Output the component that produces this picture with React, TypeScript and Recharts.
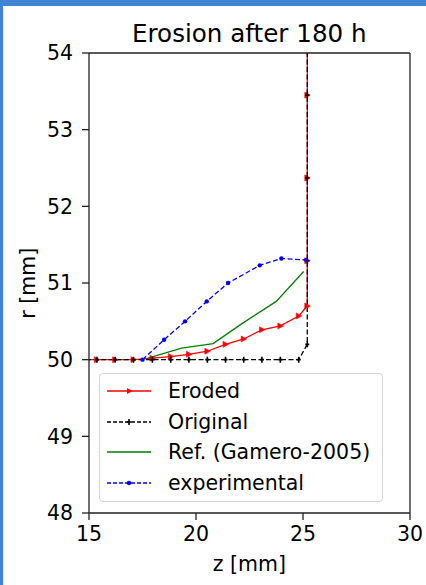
import React from "react";
import { LineChart, Line, XAxis, YAxis, ReferenceLine } from "recharts";

const FONT = "'DejaVu Sans', sans-serif";
const FRAME = "#222";

// Eroded profile (red, right triangles)
const erodedZ = [14.51, 15.37, 16.22, 17.08, 17.96, 18.82, 19.67, 20.53, 21.38, 22.23, 23.08, 23.94, 24.8, 25.2, 25.2, 25.2, 25.2, 25.2];
const erodedR = [50.0, 50.0, 50.0, 50.0, 50.02, 50.04, 50.07, 50.11, 50.2, 50.27, 50.39, 50.44, 50.57, 50.7, 51.29, 52.37, 53.45, 54.53];

// Original profile (black dashed, plus markers)
const originalZ = [14.51, 15.37, 16.22, 17.08, 17.96, 18.82, 19.67, 20.53, 21.38, 22.23, 23.08, 23.94, 24.8, 25.2, 25.2, 25.2, 25.2, 25.2];
const originalR = [50.0, 50.0, 50.0, 50.0, 50.0, 50.0, 50.0, 50.0, 50.0, 50.0, 50.0, 50.0, 50.0, 50.2, 51.29, 52.37, 53.45, 54.53];

// Ref. (Gamero-2005) (green solid)
const refZ = [17.75, 19.33, 20.8, 22.2, 23.75, 25.03];
const refR = [50.02, 50.15, 50.21, 50.48, 50.76, 51.15];

// experimental (blue dashed, dots)
const expZ = [17.5, 18.51, 19.49, 20.5, 21.5, 22.98, 23.99, 25.15];
const expR = [50.0, 50.26, 50.5, 50.76, 51.0, 51.23, 51.32, 51.3];

const xTicks = [15, 20, 25, 30];
const yTicks = [48, 49, 50, 51, 52, 53, 54];

const toPoints = (zs: number[], rs: number[]) => zs.map((z, i) => ({ z, r: rs[i] }));

const eroded = toPoints(erodedZ, erodedR);
const original = toPoints(originalZ, originalR);
const reference = toPoints(refZ, refR);
const experimental = toPoints(expZ, expR);

function TriDot(props: any) {
  const { cx, cy, index } = props;
  if (cx == null || cy == null) return <g key={`t${index}`} />;
  return (
    <path
      key={`t${index}`}
      d={`M${cx - 2.5},${cy - 3} L${cx + 3},${cy} L${cx - 2.5},${cy + 3} Z`}
      fill="#ff0000"
      stroke="#ff0000"
      strokeWidth={0.6}
    />
  );
}

function PlusDot(props: any) {
  const { cx, cy, index } = props;
  if (cx == null || cy == null) return <g key={`p${index}`} />;
  return (
    <path
      key={`p${index}`}
      d={`M${cx},${cy - 3} L${cx},${cy + 3} M${cx - 2},${cy} L${cx + 2},${cy}`}
      stroke="#000"
      strokeWidth={1.6}
    />
  );
}

function BlueDot(props: any) {
  const { cx, cy, index } = props;
  if (cx == null || cy == null) return <g key={`b${index}`} />;
  return <circle key={`b${index}`} cx={cx} cy={cy} r={2.2} fill="#0000ff" />;
}

const legendRows = [
  { label: "Eroded", color: "#ff0000", dash: undefined, marker: "tri" },
  { label: "Original", color: "#000", dash: "4 2", marker: "plus" },
  { label: "Ref. (Gamero-2005)", color: "#008000", dash: undefined, marker: "none" },
  { label: "experimental", color: "#0000ff", dash: "4 2", marker: "dot" },
];

function LegendBox() {
  return (
    <div
      style={{
        position: "absolute",
        left: 99,
        top: 373,
        width: 284,
        height: 129,
        border: "1px solid #d4d4d4",
        borderRadius: 4,
        background: "rgba(255,255,255,0.85)",
        fontFamily: FONT,
        fontSize: 20.5,
        color: "#000",
        boxSizing: "border-box",
      }}
    >
      {legendRows.map((row, i) => {
        const cy = 17 + i * 30.7;
        return (
          <div key={row.label} style={{ position: "absolute", left: 0, top: cy - 14, height: 28, width: "100%" }}>
            <svg width={50} height={28} style={{ position: "absolute", left: 6, top: 0 }}>
              <line x1={1} y1={14} x2={45} y2={14} stroke={row.color} strokeWidth={1.3} strokeDasharray={row.dash} />
              {row.marker === "tri" && <path d="M21,11 L26.5,14 L21,17 Z" fill={row.color} />}
              {row.marker === "plus" && <path d="M23,11 L23,17 M21,14 L25,14" stroke="#000" strokeWidth={1.6} />}
              {row.marker === "dot" && <circle cx={23} cy={14} r={2.2} fill={row.color} />}
            </svg>
            <span style={{ position: "absolute", left: 68, top: 0, lineHeight: "28px", whiteSpace: "nowrap" }}>
              {row.label}
            </span>
          </div>
        );
      })}
    </div>
  );
}

export default function App() {
  const tickStyle = { fontSize: 20.5, fill: "#000", fontFamily: FONT };
  return (
    <div style={{ position: "absolute", left: 0, top: 0, width: 426, height: 585, background: "#fff", overflow: "hidden" }}>
      <LineChart width={426} height={585} margin={{ top: 53, right: 16, bottom: 42, left: 0 }}>
        <XAxis
          type="number"
          dataKey="z"
          domain={[15, 30]}
          ticks={xTicks}
          allowDataOverflow
          height={30}
          tickSize={7}
          tickMargin={6}
          stroke={FRAME}
          strokeWidth={1.3}
          tick={tickStyle}
        />
        <YAxis
          type="number"
          dataKey="r"
          domain={[48, 54]}
          ticks={yTicks}
          allowDataOverflow
          width={89}
          tickSize={7}
          tickMargin={9}
          stroke={FRAME}
          strokeWidth={1.3}
          tick={tickStyle}
        />
        <ReferenceLine y={54} stroke={FRAME} strokeWidth={1.3} />
        <ReferenceLine x={30} stroke={FRAME} strokeWidth={1.3} />
        <Line
          data={eroded}
          dataKey="r"
          type="linear"
          stroke="#ff0000"
          strokeWidth={1.3}
          dot={TriDot}
          activeDot={false}
          isAnimationActive={false}
        />
        <Line
          data={original}
          dataKey="r"
          type="linear"
          stroke="#000"
          strokeWidth={1.3}
          strokeDasharray="5 2.5"
          dot={PlusDot}
          activeDot={false}
          isAnimationActive={false}
        />
        <Line
          data={reference}
          dataKey="r"
          type="linear"
          stroke="#008000"
          strokeWidth={1.3}
          dot={false}
          activeDot={false}
          isAnimationActive={false}
        />
        <Line
          data={experimental}
          dataKey="r"
          type="linear"
          stroke="#0000ff"
          strokeWidth={1.3}
          strokeDasharray="5 2.5"
          dot={BlueDot}
          activeDot={false}
          isAnimationActive={false}
        />
      </LineChart>
      <LegendBox />
      <svg
        width={426}
        height={585}
        style={{ position: "absolute", left: 0, top: 0, pointerEvents: "none" }}
        fontFamily={FONT}
      >
        <text x={249.3} y={41.5} textAnchor="middle" fontSize={24.6} fill="#000">
          Erosion after 180 h
        </text>
        <text x={249.3} y={571} textAnchor="middle" fontSize={20.5} fill="#000">
          z [mm]
        </text>
        <text x={35} y={283.3} textAnchor="middle" fontSize={20.5} fill="#000" transform="rotate(-90 35 283.3)">
          r [mm]
        </text>
      </svg>
      <div style={{ position: "absolute", left: 0, top: 0, width: 426, height: 6, background: "#3f85d2" }} />
      <div style={{ position: "absolute", left: 0, top: 0, width: 3, height: 585, background: "#3f85d2" }} />
    </div>
  );
}
